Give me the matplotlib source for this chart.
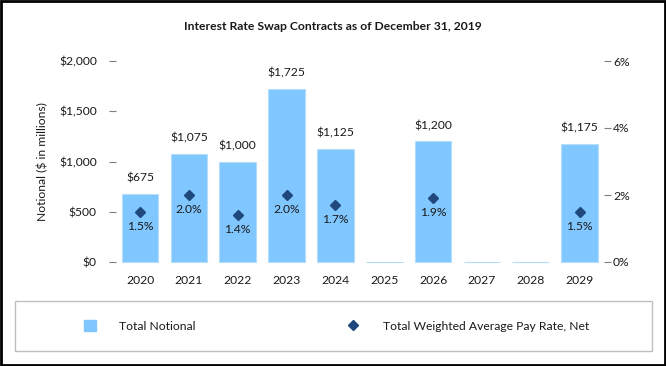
import matplotlib
matplotlib.use("Agg")
import matplotlib.pyplot as plt
from matplotlib.patches import Rectangle, Patch
from matplotlib.lines import Line2D
from matplotlib.ticker import FuncFormatter

plt.rcParams['font.family'] = ['Lato', 'DejaVu Sans']

years = ['2020', '2021', '2022', '2023', '2024', '2025', '2026', '2027', '2028', '2029']
notional = [675, 1075, 1000, 1725, 1125, 0, 1200, 0, 0, 1175]
pay_rate = [1.5, 2.0, 1.4, 2.0, 1.7, None, 1.9, None, None, 1.5]

bar_color = '#80C6FF'
dot_color = '#1F497D'
text_color = '#1A1A1A'
fs = 8.7

W, H = 666, 366
fig = plt.figure(figsize=(W / 100, H / 100), dpi=100)
ax = fig.add_axes([115.6 / W, 104 / H, (604 - 115.6) / W, 201 / H])

x = list(range(len(years)))
bars = ax.bar(x, notional, width=0.75, color=bar_color, edgecolor='#B5DDFA', linewidth=0.8, zorder=2)
for b in bars:
    b.set_clip_on(False)
ax.set_xlim(-0.5, len(years) - 0.5)
ax.set_ylim(0, 2000)
ax.set_yticks([0, 500, 1000, 1500, 2000])
ax.yaxis.set_major_formatter(FuncFormatter(lambda v, p: '${:,.0f}'.format(v)))
ax.set_xticks(x)
ax.set_xticklabels(years)
ax.tick_params(axis='x', length=0, pad=9, labelsize=fs, labelcolor=text_color)
ax.tick_params(axis='y', length=5, width=0.8, color='#7F7F7F', pad=8.5,
               labelsize=fs, labelcolor=text_color)
for s in ax.spines.values():
    s.set_visible(False)
ax.set_ylabel('Notional ($ in millions)', fontsize=fs, color=text_color, labelpad=8)

# bar value labels
for xi, v in zip(x, notional):
    if v > 0:
        ax.annotate('${:,.0f}'.format(v), (xi, v), xytext=(0, 11.5), textcoords='offset points',
                    ha='center', va='center', fontsize=fs, color=text_color)

# right axis with pay rate
ax2 = ax.twinx()
ax2.set_ylim(0, 6)
ax2.set_yticks([0, 2, 4, 6])
ax2.yaxis.set_major_formatter(FuncFormatter(lambda v, p: '{:.0f}%'.format(v)))
ax2.tick_params(axis='y', length=5, width=0.8, color='#7F7F7F', pad=1.5,
                labelsize=fs, labelcolor=text_color)
for s in ax2.spines.values():
    s.set_visible(False)

rx = [xi for xi, r in zip(x, pay_rate) if r is not None]
ry = [r for r in pay_rate if r is not None]
ax2.plot(rx, ry, linestyle='none', marker='D', markersize=5, color=dot_color, zorder=3)
for xi, r in zip(rx, ry):
    ax2.annotate('{:.1f}%'.format(r), (xi, r), xytext=(0, -10.5), textcoords='offset points',
                 ha='center', va='center', fontsize=fs, color=text_color)

fig.text(333 / W, 1 - 27 / H, 'Interest Rate Swap Contracts as of December 31, 2019',
         ha='center', va='center', fontsize=fs, fontweight='bold', color=text_color)

# legend box
fig.patches.append(Rectangle((15 / W, 15 / H), 637 / W, 50 / H, transform=fig.transFigure,
                             fill=False, edgecolor='#BFBFBF', linewidth=1))
fig.legend(handles=[Patch(color=bar_color)], labels=['Total Notional'],
           loc='center left', bbox_to_anchor=(84 / W, 1 - 326 / H), frameon=False,
           borderpad=0, borderaxespad=0, handlelength=1.0, handleheight=1.0,
           handletextpad=1.9, fontsize=fs, labelcolor=text_color)
fig.legend(handles=[Line2D([], [], linestyle='none', marker='D', markersize=5, color=dot_color)],
           labels=['Total Weighted Average Pay Rate, Net'],
           loc='center left', bbox_to_anchor=(347 / W, 1 - 326 / H), frameon=False,
           borderpad=0, borderaxespad=0, handlelength=1.0, handletextpad=2.0,
           fontsize=fs, labelcolor=text_color)

# outer border
fig.patches.append(Rectangle((1 / W, 1 / H), (W - 2) / W, (H - 2) / H,
                             transform=fig.transFigure, fill=False, edgecolor='black', linewidth=2))

fig.savefig('out.png', dpi=100)
